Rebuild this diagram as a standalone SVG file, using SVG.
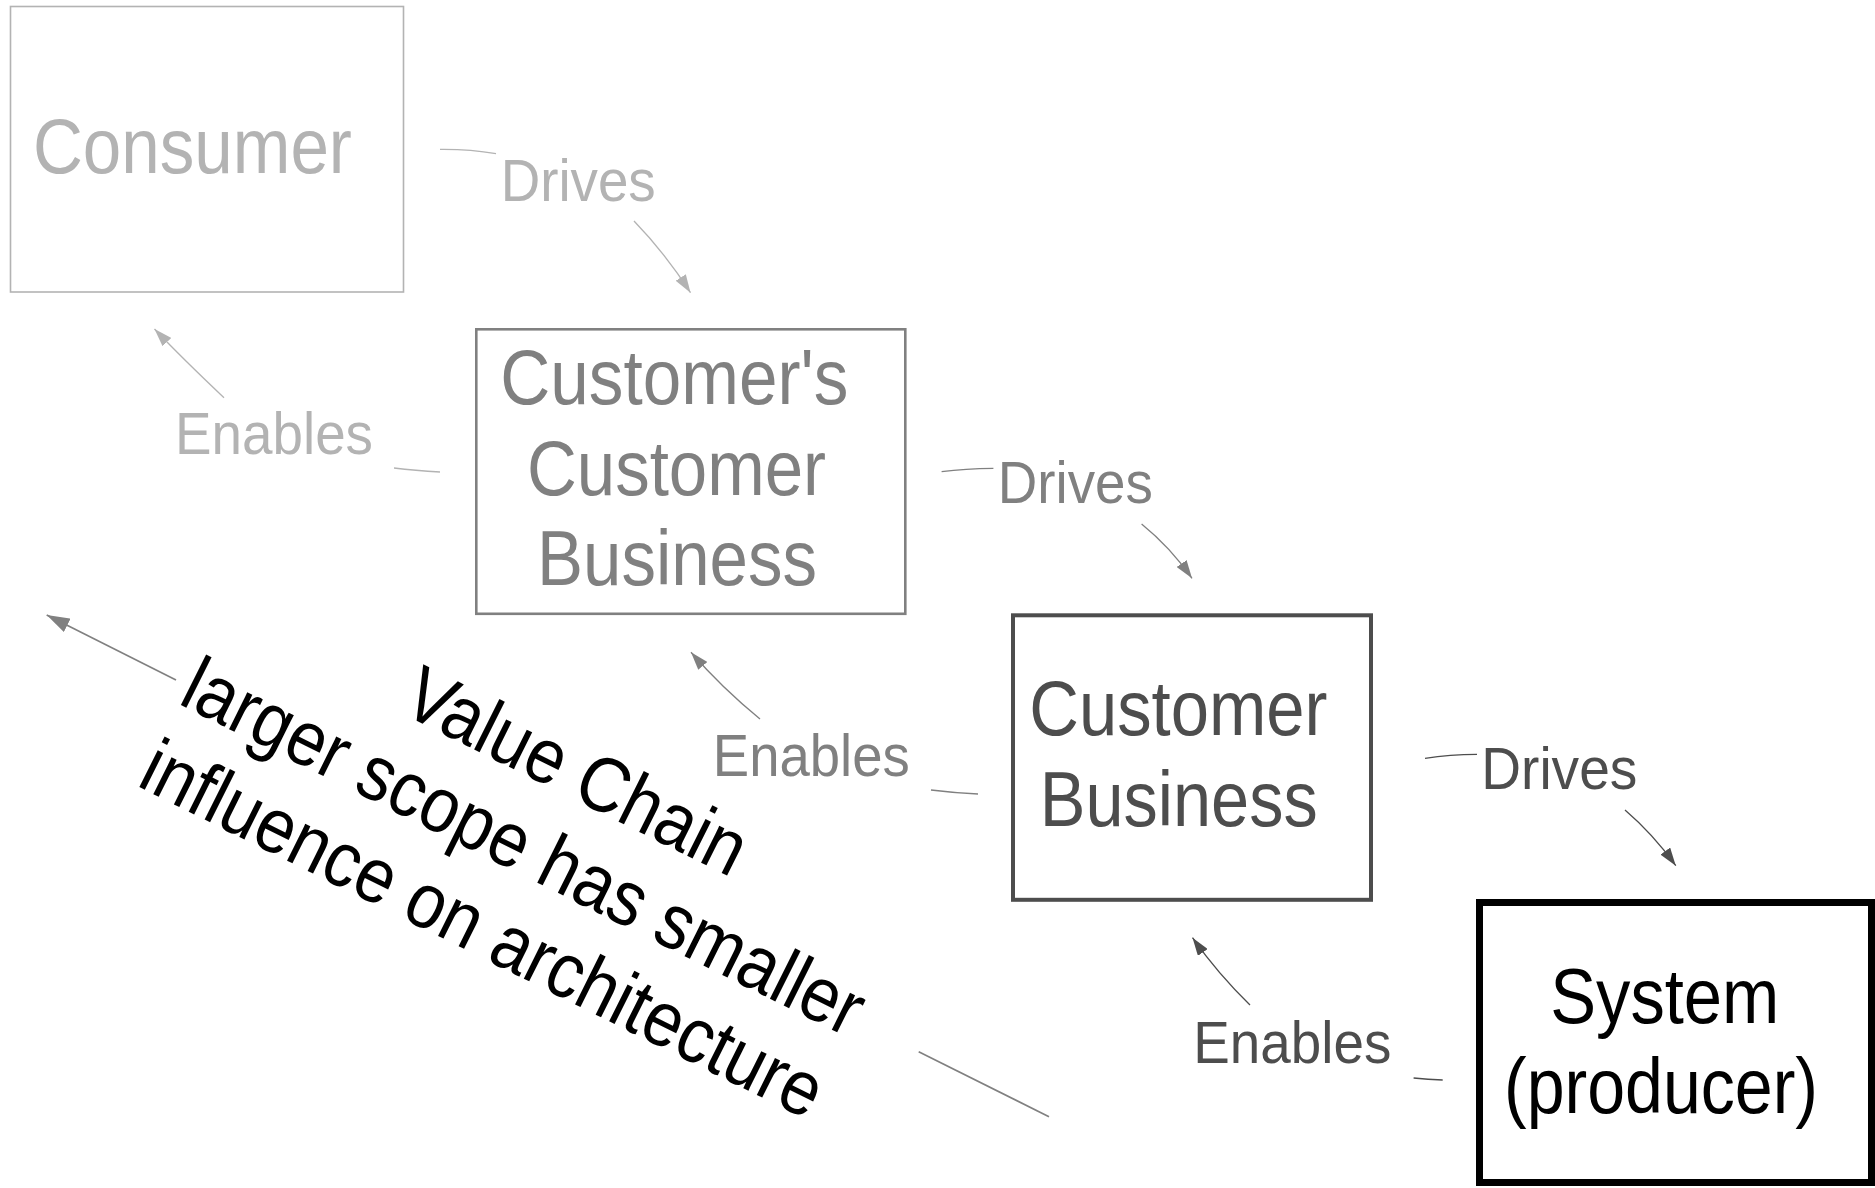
<svg xmlns="http://www.w3.org/2000/svg" width="1875" height="1188" viewBox="0 0 1875 1188">
<defs>
<style>
text{font-family:"Liberation Sans",Arial,sans-serif;text-anchor:middle}
.node{font-size:78px}
.lbl{font-size:60px}
.l1{fill:#b3b3b3}
.l2{fill:#808080}
.l3{fill:#4d4d4d}
.l4{fill:#000000}
.e{fill:none;stroke-width:1.3}
.e1{stroke:#b3b3b3}
.e2{stroke:#808080}
.e3{stroke:#4d4d4d}
</style>
<marker id="m1" markerUnits="userSpaceOnUse" markerWidth="18" markerHeight="12" viewBox="0 0 18 12" refX="18" refY="6" orient="auto"><path d="M0,0 L18,6 L0,12 z" fill="#b3b3b3"/></marker>
<marker id="m2" markerUnits="userSpaceOnUse" markerWidth="18" markerHeight="12" viewBox="0 0 18 12" refX="18" refY="6" orient="auto"><path d="M0,0 L18,6 L0,12 z" fill="#808080"/></marker>
<marker id="m3" markerUnits="userSpaceOnUse" markerWidth="18" markerHeight="12" viewBox="0 0 18 12" refX="18" refY="6" orient="auto"><path d="M0,0 L18,6 L0,12 z" fill="#4d4d4d"/></marker>
<marker id="mb" markerUnits="userSpaceOnUse" markerWidth="23" markerHeight="15" viewBox="0 0 23 15" refX="23" refY="7.5" orient="auto"><path d="M0,0 L23,7.5 L0,15 z" fill="#808080"/></marker>
</defs>
<rect width="1875" height="1188" fill="#ffffff"/>

<g id="consumer">
<rect x="10.5" y="6.5" width="393" height="285.5" fill="none" stroke="#b3b3b3" stroke-width="1.6"/>
<text class="node l1" x="192.4" y="172.7" textLength="319" lengthAdjust="spacingAndGlyphs">Consumer</text>
</g>

<g id="customers-customer-business">
<rect x="476.3" y="329.3" width="429" height="284.5" fill="none" stroke="#808080" stroke-width="2.6"/>
<text class="node l2" x="674.3" y="404" textLength="348" lengthAdjust="spacingAndGlyphs">Customer's</text>
<text class="node l2" x="676.5" y="495" textLength="299" lengthAdjust="spacingAndGlyphs">Customer</text>
<text class="node l2" x="677" y="585" textLength="280" lengthAdjust="spacingAndGlyphs">Business</text>
</g>

<g id="customer-business">
<rect x="1013" y="615.3" width="358" height="284.5" fill="none" stroke="#4d4d4d" stroke-width="4"/>
<text class="node l3" x="1178.3" y="735" textLength="298" lengthAdjust="spacingAndGlyphs">Customer</text>
<text class="node l3" x="1178.7" y="826" textLength="278" lengthAdjust="spacingAndGlyphs">Business</text>
</g>

<g id="system-producer">
<rect x="1479.5" y="902.5" width="392" height="280" fill="none" stroke="#000000" stroke-width="7"/>
<text class="node l4" x="1664.8" y="1023" textLength="229" lengthAdjust="spacingAndGlyphs">System</text>
<text class="node l4" x="1661" y="1113" textLength="314" lengthAdjust="spacingAndGlyphs">(producer)</text>
</g>

<g id="connectors">
<!-- Consumer drives Customer's Customer -->
<path class="e e1" d="M440,149.3 Q470,149 496,153.7"/>
<path class="e e1" d="M634,221 Q665,253 690.5,292.7" marker-end="url(#m1)"/>
<text class="lbl l1" x="578.2" y="201" textLength="155" lengthAdjust="spacingAndGlyphs">Drives</text>
<!-- Customer's Customer enables Consumer -->
<path class="e e1" d="M440,472 Q415,470.5 394,468"/>
<path class="e e1" d="M224,397.7 Q182,358 154.5,329" marker-end="url(#m1)"/>
<text class="lbl l1" x="274" y="454" textLength="198" lengthAdjust="spacingAndGlyphs">Enables</text>
<!-- Customer's Customer drives Customer Business -->
<path class="e e2" d="M941.6,471.7 Q965,468.5 993.4,468.3"/>
<path class="e e2" d="M1141.6,524 Q1170,547 1192,578.3" marker-end="url(#m2)"/>
<text class="lbl l2" x="1075.3" y="502.7" textLength="155" lengthAdjust="spacingAndGlyphs">Drives</text>
<!-- Customer Business enables Customer's Customer -->
<path class="e e2" d="M978,794 Q955,793 931,790"/>
<path class="e e2" d="M760,719 Q722,688 691,652.3" marker-end="url(#m2)"/>
<text class="lbl l2" x="811.3" y="776" textLength="197" lengthAdjust="spacingAndGlyphs">Enables</text>
<!-- Customer Business drives System -->
<path class="e e3" d="M1425,758.3 Q1450,754.5 1477,754.3"/>
<path class="e e3" d="M1625,810 Q1653,834 1675.8,865.7" marker-end="url(#m3)"/>
<text class="lbl l3" x="1559.3" y="789" textLength="156" lengthAdjust="spacingAndGlyphs">Drives</text>
<!-- System enables Customer Business -->
<path class="e e3" d="M1442.7,1080 Q1428,1079.5 1413.6,1078"/>
<path class="e e3" d="M1250,1005 Q1218,974 1192.5,937.7" marker-end="url(#m3)"/>
<text class="lbl l3" x="1292.3" y="1062.7" textLength="198" lengthAdjust="spacingAndGlyphs">Enables</text>
<!-- Value chain arrow -->
<path d="M1049,1116.7 L918.7,1051.7" fill="none" stroke="#808080" stroke-width="1.6"/>
<path d="M176,680 L46.7,615" fill="none" stroke="#808080" stroke-width="1.6" marker-end="url(#mb)"/>
<g transform="translate(418.3,721.7) rotate(26.5)">
<text class="node l4" x="164" y="0" textLength="371" lengthAdjust="spacingAndGlyphs">Value Chain</text>
<text class="node l4" x="150.5" y="91" textLength="750" lengthAdjust="spacingAndGlyphs">larger scope has smaller</text>
<text class="node l4" x="150.5" y="183" textLength="751" lengthAdjust="spacingAndGlyphs">influence on architecture</text>
</g>
</g>
</svg>
